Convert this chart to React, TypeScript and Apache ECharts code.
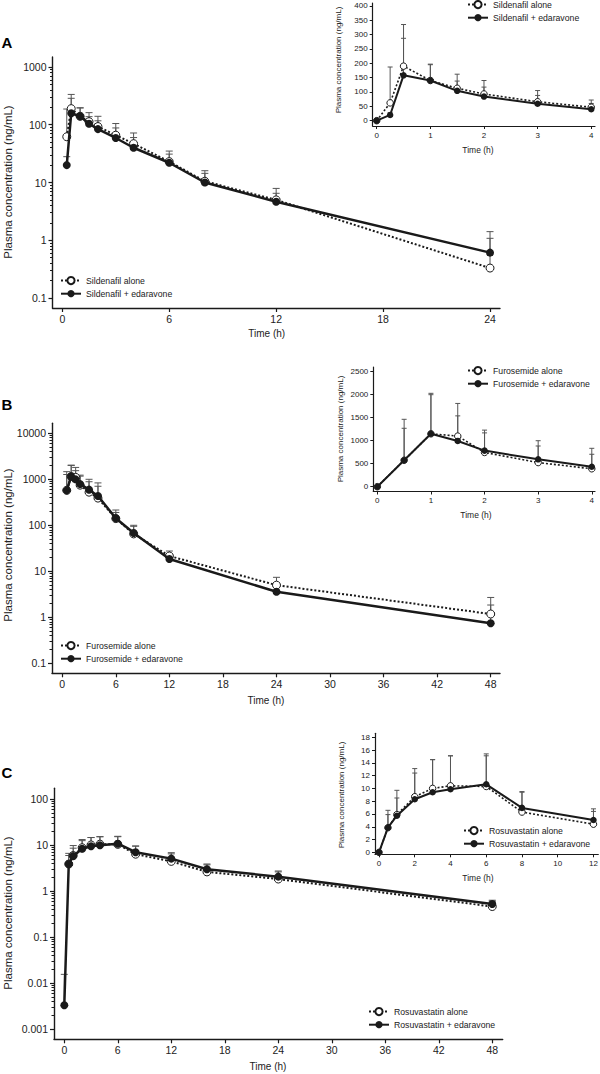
import { useEffect, useRef } from 'react';
import * as echarts from 'echarts';

const FONT = '"Liberation Sans", Arial, Helvetica, sans-serif';
const INK = '#1a1a1a';
const ERR = '#555555';

// ---------- Panel A: Sildenafil ----------
const sildTimes = [0, 0.25, 0.5, 1, 1.5, 2, 3, 4, 6, 8, 12, 24];
const sildAlone = [0, 62, 190, 140, 113, 93, 66, 47, 23, 10.5, 5.0, 0.33];
const sildAloneTop = [null, 187, 335, 197, 162, 140, 105, 72, 35, 16, 7.9, 1.08];
const sildEda = [0, 20, 158, 140, 104, 84, 59, 40, 22, 10, 4.65, 0.61];
const sildEdaTop = [null, 28, 287, 195, 138, 117, 88, 60, 31, 14.4, 6.5, 1.41];

// ---------- Panel B: Furosemide ----------
const furoTimes = [0, 0.5, 1, 1.5, 2, 3, 4, 6, 8, 12, 24, 48];
const furoAlone = [0, 575, 1150, 1100, 745, 525, 390, 140, 65, 21.5, 5.0, 1.18];
const furoAloneTop = [null, 1465, 2030, 1810, 1170, 885, 705, 190, 95, 27.6, 7.4, 2.7];
const furoEda = [0, 575, 1150, 995, 785, 595, 435, 142, 68, 18.5, 3.6, 0.74];
const furoEdaTop = [null, 1270, 2000, 1540, 1230, 1000, 835, 215, 100, 24, 5.0, 1.85];

// ---------- Panel C: Rosuvastatin ----------
const rosuTimes = [0, 0.5, 1, 2, 3, 4, 6, 8, 12, 16, 24, 48];
const rosuAlone = [0, 3.85, 5.9, 8.7, 10.0, 10.4, 10.3, 6.3, 4.4, 2.6, 1.82, 0.46];
const rosuAloneTop = [null, 5.9, 8.5, 12.4, 14.5, 15.1, 15.1, 9.4, 6.4, 3.7, 2.6, 0.6];
const rosuEda = [0.0033, 3.85, 5.73, 8.3, 9.4, 9.86, 10.64, 6.95, 5.05, 2.96, 2.05, 0.52];
const rosuEdaTop = [0.0155, 6.57, 9.7, 13.1, 14.5, 15.1, 15.4, 9.5, 6.8, 3.86, 2.72, 0.63];

// ---------- tick labels ----------
const sildMainXTicks = [0, 6, 12, 18, 24];
const longMainXTicks = [0, 6, 12, 18, 24, 30, 36, 42, 48];
const sildMainYTicks = [0.1, 1, 10, 100, 1000];
const furoMainYTicks = [0.1, 1, 10, 100, 1000, 10000];
const rosuMainYTicks = [0.001, 0.01, 0.1, 1, 10, 100];
const shortInsetXTicks = [0, 1, 2, 3, 4];
const rosuInsetXTicks = [0, 2, 4, 6, 8, 10, 12];
const sildInsetYTicks = [0, 50, 100, 150, 200, 250, 300, 350, 400];
const furoInsetYTicks = [0, 500, 1000, 1500, 2000, 2500];
const rosuInsetYTicks = [0, 2, 4, 6, 8, 10, 12, 14, 16, 18];

const yTitle = 'Plasma concentration (ng/mL)';
const xTitle = 'Time (h)';

type Layout = { left: number; top: number; width: number; height: number; xMin: number; xMax: number; yMin: number; yMax: number };

const panels = [
  {
    letter: 'A', letterY: 42,
    times: sildTimes, alone: sildAlone, aloneTop: sildAloneTop, eda: sildEda, edaTop: sildEdaTop,
    aloneName: 'Sildenafil alone', edaName: 'Sildenafil + edaravone', insetMaxT: 4,
    mainXTicks: sildMainXTicks, mainYTicks: sildMainYTicks, insetXTicks: shortInsetXTicks, insetYTicks: sildInsetYTicks,
    main: { left: 52.5, top: 57, width: 447.5, height: 251, xMin: -0.55, xMax: 24.56, yMin: -1.173, yMax: 3.173 } as Layout,
    inset: { left: 372.7, top: 3, width: 222.3, height: 123, xMin: -0.075, xMax: 4.07, yMin: -18.5, yMax: 410 } as Layout,
    legMain: { left: 60, top: 276 }, legInset: { left: 467, top: 0 },
    mainYT: [7.5, 182], insetYT: [338, 60], mainXT: [266.7, 333], insetXT: [478, 150],
  },
  {
    letter: 'B', letterY: 404,
    times: furoTimes, alone: furoAlone, aloneTop: furoAloneTop, eda: furoEda, edaTop: furoEdaTop,
    aloneName: 'Furosemide alone', edaName: 'Furosemide + edaravone', insetMaxT: 4,
    mainXTicks: longMainXTicks, mainYTicks: furoMainYTicks, insetXTicks: shortInsetXTicks, insetYTicks: furoInsetYTicks,
    main: { left: 52, top: 423.3, width: 448, height: 250, xMin: -1.15, xMax: 49.04, yMin: -1.217, yMax: 4.217 } as Layout,
    inset: { left: 373.3, top: 367, width: 221.7, height: 124.5, xMin: -0.075, xMax: 4.06, yMin: -104, yMax: 2602 } as Layout,
    legMain: { left: 60, top: 641 }, legInset: { left: 467, top: 366 },
    mainYT: [7.5, 545], insetYT: [340, 429], mainXT: [266, 700], insetXT: [476, 515],
  },
  {
    letter: 'C', letterY: 772,
    times: rosuTimes, alone: rosuAlone, aloneTop: rosuAloneTop, eda: rosuEda, edaTop: rosuEdaTop,
    aloneName: 'Rosuvastatin alone', edaName: 'Rosuvastatin + edaravone', insetMaxT: 12,
    mainXTicks: longMainXTicks, mainYTicks: rosuMainYTicks, insetXTicks: rosuInsetXTicks, insetYTicks: rosuInsetYTicks,
    main: { left: 54, top: 788.3, width: 448.7, height: 251, xMin: -1.155, xMax: 49.17, yMin: -3.22, yMax: 2.23 } as Layout,
    inset: { left: 375, top: 733.3, width: 223.3, height: 121, xMin: -0.224, xMax: 12.27, yMin: -0.31, yMax: 18.62 } as Layout,
    legMain: { left: 368, top: 1007 }, legInset: { left: 463, top: 826 },
    mainYT: [8, 913], insetYT: [341.5, 795], mainXT: [268, 1066.7], insetXT: [478, 878],
  },
];

function logLabel(v: number): string {
  const n = Math.pow(10, v);
  if (v >= 0) return String(Math.round(n));
  return n.toFixed(Math.round(-v));
}

function errRender(capW: number) {
  return (_params: any, api: any) => {
    const x = api.value(0);
    const y = api.value(1);
    const t = api.value(2);
    const p0 = api.coord([x, y]);
    const p1 = api.coord([x, t]);
    const style = { stroke: ERR, lineWidth: 1, fill: null };
    return {
      type: 'group',
      children: [
        { type: 'line', shape: { x1: p0[0], y1: p0[1], x2: p1[0], y2: p1[1] }, style },
        { type: 'line', shape: { x1: p1[0] - capW / 2, y1: p1[1], x2: p1[0] + capW / 2, y2: p1[1] }, style },
      ],
    };
  };
}

function buildOption() {
  const grids: any[] = [];
  const xAxes: any[] = [];
  const yAxes: any[] = [];
  const minorYAxes: any[] = [];
  const series: any[] = [];
  const legends: any[] = [];
  const graphics: any[] = [];

  const axisLineStyle = (w: number) => ({ show: true, onZero: false, lineStyle: { color: INK, width: w } });

  panels.forEach((p, pi) => {
    const gMain = pi * 2;
    const gInset = pi * 2 + 1;
    [p.main, p.inset].forEach((l) => {
      grids.push({ left: l.left, top: l.top, width: l.width, height: l.height, containLabel: false, outerBoundsMode: 'none' });
    });

    xAxes.push({
      type: 'value', gridIndex: gMain, min: p.main.xMin, max: p.main.xMax,
      axisLine: axisLineStyle(1.4), splitLine: { show: false },
      axisTick: { show: true, length: 4, lineStyle: { color: INK, width: 1.2 }, customValues: p.mainXTicks },
      axisLabel: { customValues: p.mainXTicks, formatter: (v: number) => String(v), fontSize: 10.5, fontFamily: FONT, color: '#222', margin: 5 },
    });
    xAxes.push({
      type: 'value', gridIndex: gInset, min: p.inset.xMin, max: p.inset.xMax,
      axisLine: axisLineStyle(1.2), splitLine: { show: false },
      axisTick: { show: true, length: 3, lineStyle: { color: INK, width: 1 }, customValues: p.insetXTicks },
      axisLabel: { customValues: p.insetXTicks, formatter: (v: number) => String(v), fontSize: 8, fontFamily: FONT, color: '#222', margin: 5 },
    });

    const logTicks = p.mainYTicks.map((v) => Math.log10(v));
    yAxes.push({
      type: 'value', gridIndex: gMain, min: p.main.yMin, max: p.main.yMax,
      axisLine: axisLineStyle(1.4), splitLine: { show: false },
      axisTick: { show: true, length: 4, lineStyle: { color: INK, width: 1.2 }, customValues: logTicks },
      axisLabel: { customValues: logTicks, formatter: (v: number) => logLabel(v), fontSize: 10.5, fontFamily: FONT, color: '#222', margin: 6 },
    });
    yAxes.push({
      type: 'value', gridIndex: gInset, min: p.inset.yMin, max: p.inset.yMax,
      axisLine: axisLineStyle(1.2), splitLine: { show: false },
      axisTick: { show: true, length: 3, lineStyle: { color: INK, width: 1 }, customValues: p.insetYTicks },
      axisLabel: { customValues: p.insetYTicks, formatter: (v: number) => String(v), fontSize: 8, fontFamily: FONT, color: '#222', margin: 5 },
    });

    const minor: number[] = [];
    for (let d = logTicks[0]; d < logTicks[logTicks.length - 1]; d++) {
      for (let k = 2; k <= 9; k++) minor.push(d + Math.log10(k));
    }
    minorYAxes.push({
      type: 'value', gridIndex: gMain, min: p.main.yMin, max: p.main.yMax, position: 'left', offset: 0,
      axisLine: { show: false, onZero: false }, splitLine: { show: false },
      axisTick: { show: true, length: 2.5, lineStyle: { color: INK, width: 1 }, customValues: minor },
      axisLabel: { show: false },
    });

    const idx = p.times.map((_, i) => i);
    const insetIdx = idx.filter((i) => p.times[i] <= p.insetMaxT);

    const addGroup = (name: string, vals: number[], tops: (number | null)[], open: boolean) => {
      const lineStyleMain = open ? { color: INK, width: 2, type: [2, 2] } : { color: INK, width: 2.5 };
      const lineStyleInset = open ? { color: INK, width: 1.6, type: [2, 2] } : { color: INK, width: 2 };
      const itemStyle = open ? { color: '#ffffff', borderColor: INK, borderWidth: 1 } : { color: INK, borderColor: INK, borderWidth: 0 };
      const mainIdx = idx.filter((i) => vals[i] > 0);
      series.push({
        type: 'custom', xAxisIndex: gMain, yAxisIndex: gMain, z: 2, silent: true,
        renderItem: errRender(7),
        encode: { x: 0, y: 1 },
        data: mainIdx.filter((i) => tops[i] != null).map((i) => [p.times[i], Math.log10(vals[i]), Math.log10(tops[i] as number)]),
      });
      series.push({
        type: 'custom', xAxisIndex: gInset, yAxisIndex: gInset, z: 2, silent: true,
        renderItem: errRender(5),
        encode: { x: 0, y: 1 },
        data: insetIdx.filter((i) => tops[i] != null).map((i) => [p.times[i], vals[i], tops[i] as number]),
      });
      series.push({
        type: 'line', name, xAxisIndex: gMain, yAxisIndex: gMain, z: open ? 3 : 4,
        symbol: 'circle', symbolSize: 8, showSymbol: true, silent: true,
        lineStyle: lineStyleMain, itemStyle,
        data: mainIdx.map((i) => [p.times[i], Math.log10(vals[i])]),
      });
      series.push({
        type: 'line', name, xAxisIndex: gInset, yAxisIndex: gInset, z: open ? 3 : 4,
        symbol: 'circle', symbolSize: 6.5, showSymbol: true, silent: true,
        lineStyle: lineStyleInset, itemStyle,
        data: insetIdx.map((i) => [p.times[i], vals[i]]),
      });
    };
    addGroup(p.aloneName, p.alone, p.aloneTop, true);
    addGroup(p.edaName, p.eda, p.edaTop, false);

    [p.legMain, p.legInset].forEach((lg) => {
      legends.push({
        left: lg.left, top: lg.top, orient: 'vertical', padding: 0,
        itemWidth: 20, itemHeight: 9, itemGap: 4, selectedMode: false,
        data: [p.aloneName, p.edaName],
        textStyle: { fontSize: 8.7, fontFamily: FONT, color: '#222' },
      });
    });

    graphics.push({
      type: 'text', x: 1.5, y: p.letterY,
      style: { text: p.letter, font: `bold 15px ${FONT}`, fill: '#000', align: 'left', verticalAlign: 'middle' },
    });
    const rot = (pos: number[], size: number) => ({
      type: 'text', x: pos[0], y: pos[1], rotation: Math.PI / 2,
      style: { text: yTitle, font: `${size}px ${FONT}`, fill: '#222', align: 'center', verticalAlign: 'middle' },
    });
    graphics.push(rot(p.mainYT, 11.5));
    graphics.push(rot(p.insetYT, 8));
    graphics.push({
      type: 'text', x: p.mainXT[0], y: p.mainXT[1],
      style: { text: xTitle, font: `10px ${FONT}`, fill: '#222', align: 'center', verticalAlign: 'middle' },
    });
    graphics.push({
      type: 'text', x: p.insetXT[0], y: p.insetXT[1],
      style: { text: xTitle, font: `8.5px ${FONT}`, fill: '#222', align: 'center', verticalAlign: 'middle' },
    });
  });

  return {
    animation: false,
    backgroundColor: '#ffffff',
    textStyle: { fontFamily: FONT },
    grid: grids,
    xAxis: xAxes,
    yAxis: [...yAxes, ...minorYAxes],
    legend: legends,
    series,
    graphic: graphics,
  };
}

export default function App() {
  const ref = useRef<HTMLDivElement>(null);
  useEffect(() => {
    const chart = echarts.init(ref.current as HTMLDivElement, null, { renderer: 'svg' });
    chart.setOption(buildOption() as any);
    return () => chart.dispose();
  }, []);
  return <div ref={ref} style={{ position: 'absolute', left: 0, top: 0, width: 600, height: 1074, background: '#fff' }} />;
}
